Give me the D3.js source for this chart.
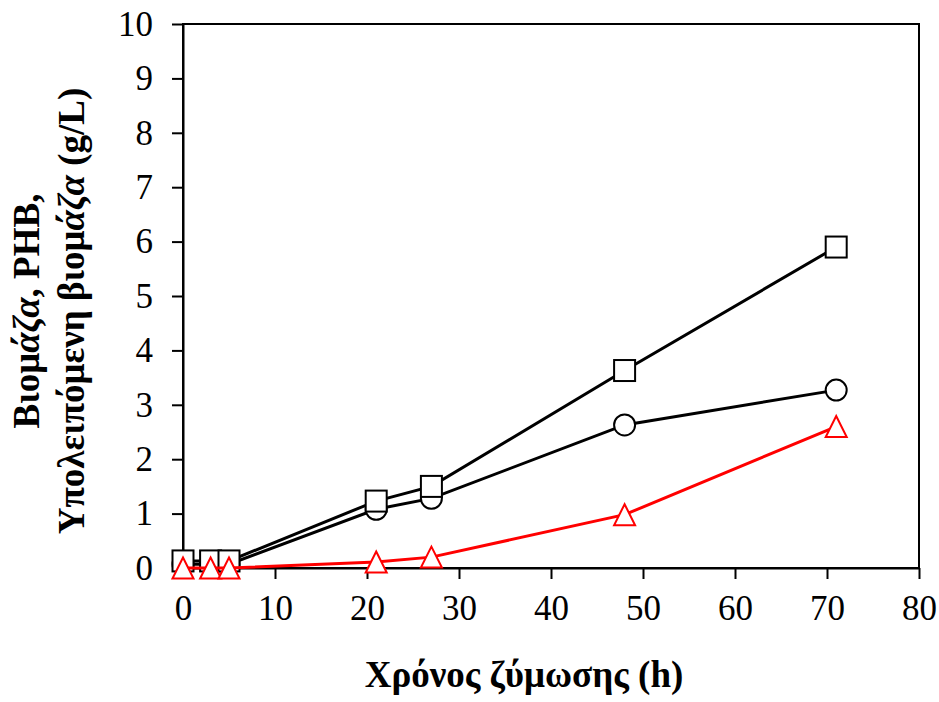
<!DOCTYPE html>
<html><head><meta charset="utf-8">
<script src="https://cdn.jsdelivr.net/npm/d3@7"></script>
<style>body{margin:0;background:#fff}</style>
</head><body>
<svg id="c" width="939" height="702"></svg>
<script>
const timeH = [0, 3, 5, 21, 27, 48, 71];
const biomass = [0.13, 0.13, 0.13, 1.23, 1.5, 3.63, 5.9];
const residual = [0.07, 0.07, 0.07, 1.08, 1.28, 2.63, 3.27];
const phb = [0, 0, 0, 0.11, 0.2, 0.98, 2.6];
const xTicks = [0, 10, 20, 30, 40, 50, 60, 70, 80];
const yTicks = [0, 1, 2, 3, 4, 5, 6, 7, 8, 9, 10];

const svg = d3.select("#c");
const F = "'Liberation Serif','Times New Roman',serif";
const L = 183, R = 919, T = 24, B = 568;
const x = d3.scaleLinear().domain([0, 80]).range([L, R]);
const y = d3.scaleLinear().domain([0, 10]).range([B, T]);

svg.append("rect").attr("x", L).attr("y", T).attr("width", R - L).attr("height", B - T)
  .attr("fill", "none").attr("stroke", "#000").attr("stroke-width", 2);

const xa = svg.append("g").attr("transform", `translate(0,${B})`)
  .call(d3.axisBottom(x).tickValues(xTicks).tickSize(11).tickSizeOuter(0).tickPadding(16));
const ya = svg.append("g").attr("transform", `translate(${L},0)`)
  .call(d3.axisLeft(y).tickValues(yTicks).tickSize(11).tickSizeOuter(0).tickPadding(19));
[xa, ya].forEach(a => {
  a.select(".domain").attr("stroke", "#000").attr("stroke-width", 2);
  a.selectAll(".tick line").attr("stroke", "#000").attr("stroke-width", 2);
  a.selectAll(".tick text").attr("font-family", F).attr("font-size", 35).attr("fill", "#000");
});
xa.selectAll(".tick text").attr("dy", "0.71em");

const line = d3.line().x(d => x(d[0])).y(d => y(d[1]));
function series(vals, color, shape) {
  const pts = timeH.map((t, i) => [t, vals[i]]);
  svg.append("path").datum(pts).attr("d", line).attr("fill", "none")
    .attr("stroke", color).attr("stroke-width", 3);
  const g = svg.append("g");
  pts.forEach(p => {
    const cx = x(p[0]), cy = y(p[1]);
    if (shape === "circle") {
      g.append("circle").attr("cx", cx).attr("cy", cy).attr("r", 10.5)
        .attr("fill", "#fff").attr("stroke", color).attr("stroke-width", 2);
    } else if (shape === "square") {
      g.append("rect").attr("x", cx - 10.5).attr("y", cy - 10.5).attr("width", 21).attr("height", 21)
        .attr("fill", "#fff").attr("stroke", color).attr("stroke-width", 2);
    } else {
      g.append("path").attr("d", `M${cx},${cy - 10.5}L${cx + 10.5},${cy + 10.5}L${cx - 10.5},${cy + 10.5}Z`)
        .attr("fill", "#fff").attr("stroke", color).attr("stroke-width", 2);
    }
  });
}
series(residual, "#000", "circle");
series(biomass, "#000", "square");
series(phb, "#ff0000", "triangle");

svg.append("text").attr("x", 524).attr("y", 687).attr("text-anchor", "middle")
  .attr("font-family", F).attr("font-size", 37).attr("font-weight", "bold")
  .text("Χρόνος ζύμωσης (h)");

const yt = svg.append("text").attr("transform", "translate(39,311) rotate(-90)")
  .attr("text-anchor", "middle").attr("font-family", F).attr("font-size", 37).attr("font-weight", "bold");
yt.append("tspan").text("Βιομ");
yt.append("tspan").attr("font-style", "italic").text("άζα");
yt.append("tspan").text(", PHB,");
const yt2 = svg.append("text").attr("transform", "translate(84,311) rotate(-90)")
  .attr("text-anchor", "middle").attr("font-family", F).attr("font-size", 37).attr("font-weight", "bold");
yt2.append("tspan").text("Υπολειπόμενη βιομ");
yt2.append("tspan").attr("font-style", "italic").text("άζα");
yt2.append("tspan").text(" (g/L)");
</script>
</body></html>
